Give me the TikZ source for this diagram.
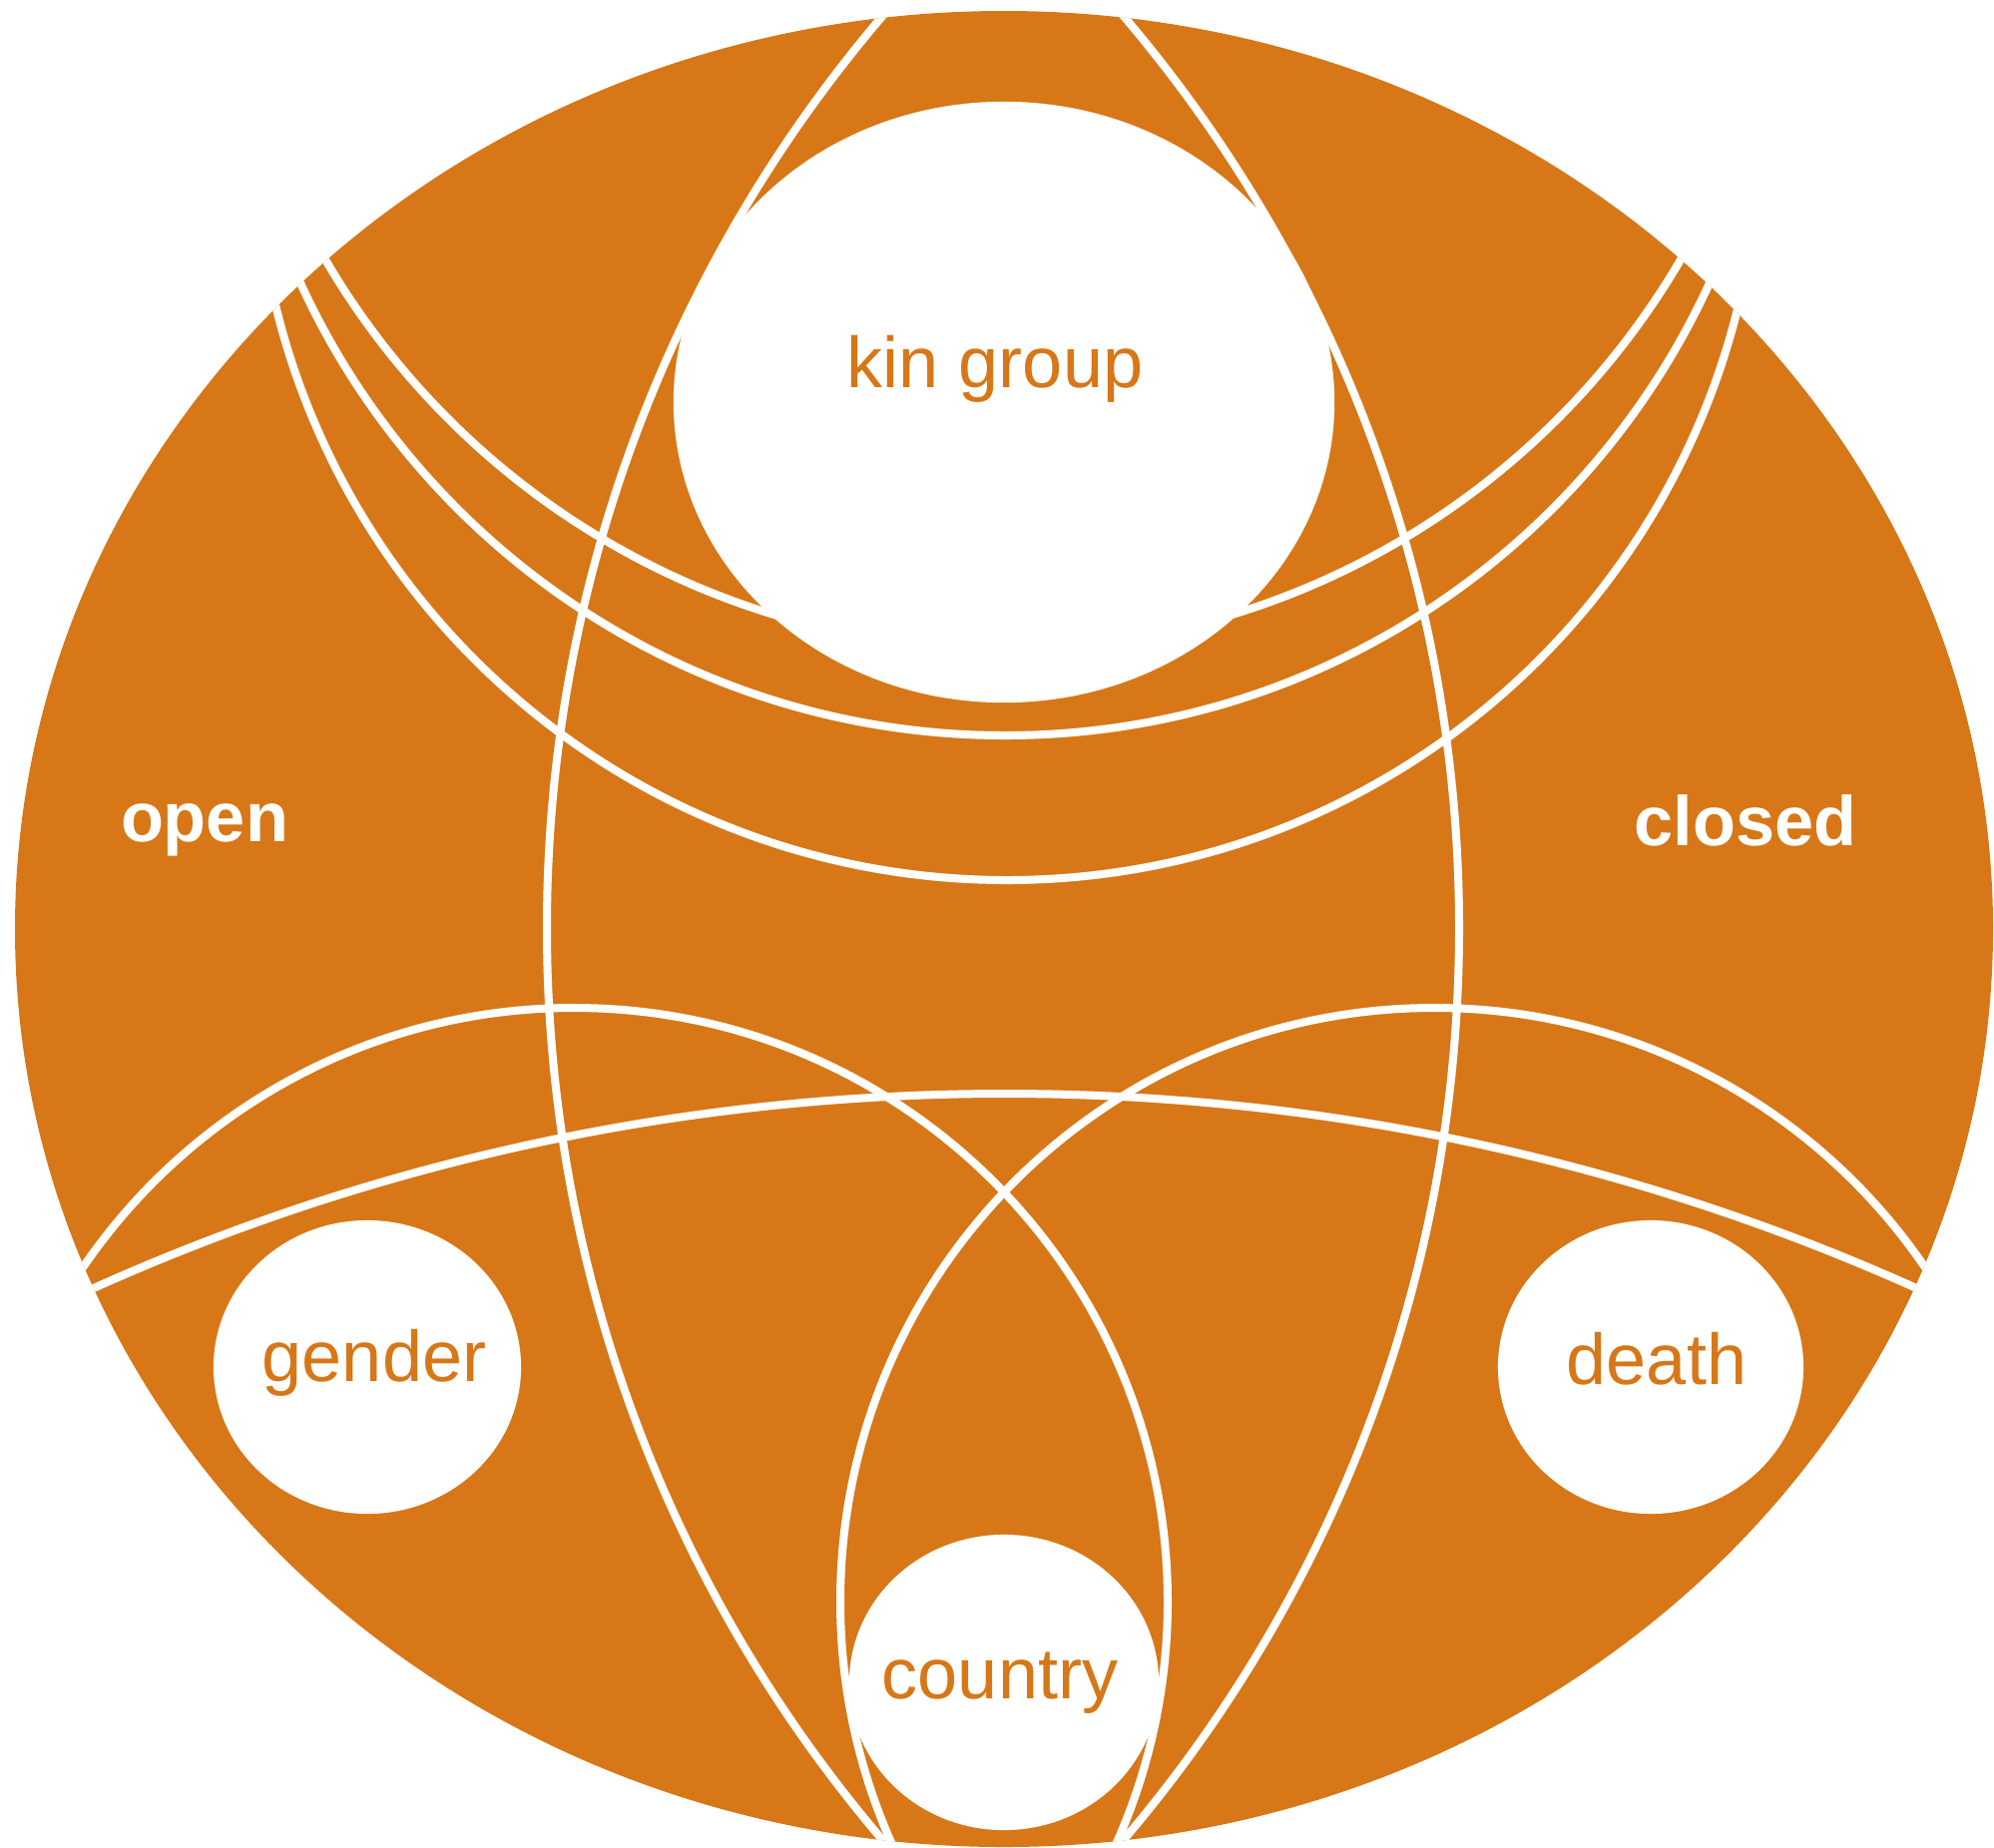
\documentclass[tikz,border=0pt]{standalone}
\usepackage{fontspec}
\setmainfont{Liberation Sans}
\usetikzlibrary{shapes.geometric}
\definecolor{rust}{RGB}{215,119,23}

\begin{document}
\begin{tikzpicture}[
    x=0.01cm, y=-0.01cm,
    seam/.style={white, line width=0.08cm},
    hole/.style={ellipse, fill=white, inner sep=0pt},
    word/.style={anchor=base, text=rust, font=\fontsize{20.5}{24}\selectfont},
    side/.style={anchor=base, text=white, font=\bfseries\fontsize{20}{24}\selectfont}
]
\useasboundingbox (0,0) rectangle (1998,1851);

% Disc
\fill[rust] (1006,931) ellipse [x radius=991, y radius=920];

% Seams
\begin{scope}
\clip (1006,931) ellipse [x radius=991, y radius=920];
\draw[seam] (1958,930) circle [radius=1410];
\draw[seam] (52,930) circle [radius=1410];
\draw[seam] (1005,-136) circle [radius=786];
\draw[seam] (1007,-39) circle [radius=776];
\draw[seam] (1009,128) circle [radius=754];
\draw[seam] (1007,3326) circle [radius=2230];
\draw[seam] (575,1605) circle [radius=595];
\draw[seam] (1437,1605) circle [radius=595];
\end{scope}

% Holes
\node[hole, minimum width=6.62cm, minimum height=6.02cm] (kin) at (1006,403) {};
\node[hole, minimum width=3.08cm, minimum height=2.94cm] (gender) at (368,1370) {};
\node[hole, minimum width=3.06cm, minimum height=2.94cm] (death) at (1654,1370) {};
\node[hole, minimum width=3.10cm, minimum height=2.96cm] (country) at (1006,1686) {};

% Labels
\node[word] (kintext) at (997,388) {kin group};
\node[word] (gendertext) at (375,1384) {gender};
\node[word] (deathtext) at (1660,1387) {death};
\node[word] (countrytext) at (1002,1702) {country};
\node[side] (open) at (205,843) {open};
\node[side] (closed) at (1749,847) {closed};

\end{tikzpicture}
\end{document}
